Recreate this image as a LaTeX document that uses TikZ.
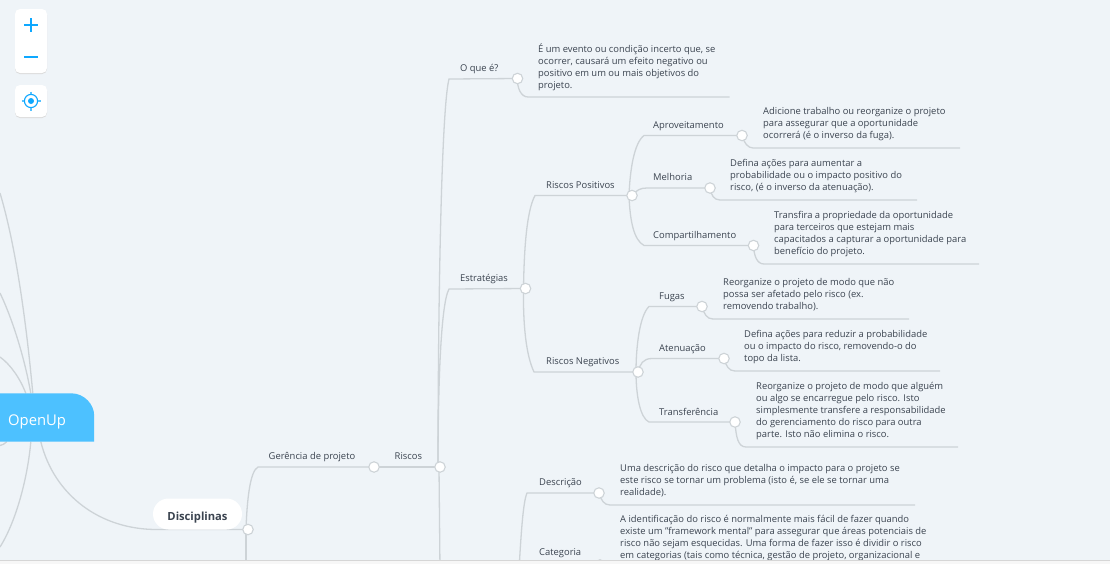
\documentclass[tikz,border=0pt]{standalone}
\usepackage{fontspec}
\setmainfont{Open Sans}
\usetikzlibrary{backgrounds}
\pgfdeclarelayer{paper}
\pgfdeclarelayer{wires}
\pgfdeclarelayer{top}
\pgfsetlayers{paper,wires,main,top}
\definecolor{bgc}{HTML}{EFF4F8}
\definecolor{wire}{HTML}{CDD3D7}
\definecolor{ink}{HTML}{3B4450}
\definecolor{brand}{HTML}{4DC1FF}
\definecolor{ctrl}{HTML}{0EA8FF}
\tikzset{
  txt/.style={anchor=west,inner sep=0pt,align=left,text=ink,font=\fontsize{9.4}{12}\selectfont,
    execute at begin node={\rule{0pt}{10.7pt}},execute at end node={\rule[-3.5pt]{0pt}{3.5pt}}},
  dot/.style={circle,fill=white,draw=wire,line width=1.1pt,minimum size=10.5pt,inner sep=0pt},
  conn/.style={draw=wire,line width=1.3pt},
  card/.style={fill=white,rounded corners=5pt},
  cardshadow/.style={fill=black!14,rounded corners=5pt},
  ctrlline/.style={draw=ctrl,line width=1.6pt}
}
\begin{document}
\begin{tikzpicture}[x=1pt,y=-1pt]
\useasboundingbox (0,0) rectangle (1110,563);
\begin{pgfonlayer}{paper}
\fill[bgc] (0,0) rectangle (1110,570);
\end{pgfonlayer}

% zoom controls
\fill[cardshadow] (15,10) rectangle (47,74);
\fill[card] (15,9) rectangle (47,73);
\fill[cardshadow] (15,86) rectangle (47,118);
\fill[card] (15,85) rectangle (47,117);
\draw[ctrlline] (24,25) -- (38,25) (31,18) -- (31,32);
\draw[ctrlline] (24,57) -- (38,57);
\draw[draw=ctrl,line width=1.1pt] (31,101) circle (6.6);
\fill[ctrl] (31,101) circle (3);
\draw[draw=ctrl!70,line width=1.1pt] (21.5,101) -- (24,101) (38,101) -- (40.5,101) (31,91.5) -- (31,94) (31,108) -- (31,110.5);

% root
\node[minimum width=114pt,minimum height=48pt,inner sep=0pt,anchor=center] (open) at (37,417.5) {};
\fill[brand] (open.south west) -- ([xshift=-0.5pt]open.south east) -- (open.south east) -- ([yshift=26pt]open.south east)
  .. controls ([yshift=-11pt]open.north east) and ([xshift=-10pt]open.north east) .. ([xshift=-23pt]open.north east) -- (open.north west) -- cycle;
\node[anchor=west,inner sep=0pt,text=white,font=\fontsize{14.8}{18}\selectfont] (opentxt) at (8,421.8) {OpenUp};

% main topic
\node[fill=white,rounded corners=15.5pt,minimum width=89pt,minimum height=31pt,inner sep=0pt,text height=15pt,text depth=2pt,text=ink,font=\fontsize{11.2}{13}\selectfont\bfseries] (disc) at (197.5,514) {Disciplinas};

% dots
\node[dot] (dd) at (248,529.5) {};
\node[dot] (dg) at (374,467) {};
\node[dot] (dr) at (440,467) {};
\node[dot] (dq) at (517.5,78.5) {};
\node[dot] (de) at (525.5,288.5) {};
\node[dot] (dp) at (632,195.5) {};
\node[dot] (dn) at (638,372) {};
\node[dot] (da) at (742,135.5) {};
\node[dot] (dm) at (710,188) {};
\node[dot] (dc) at (753.5,245.5) {};
\node[dot] (df) at (702,306.5) {};
\node[dot] (dt) at (724,358.5) {};
\node[dot] (dx) at (735,422) {};
\node[dot] (dv) at (599,493) {};
\node[dot] (dy) at (600,565) {};

% labels
\node[txt] (lg) at (268.5,455.5) {Gerência de projeto};
\node[txt] (lr) at (394.5,455.5) {Riscos};
\node[txt] (lq) at (460,67.5) {O que é?};
\node[txt] (le) at (460,277.5) {Estratégias};
\node[txt] (lp) at (546,184.7) {Riscos Positivos};
\node[txt] (ln) at (546,360.5) {Riscos Negativos};
\node[txt] (la) at (653,124.5) {Aproveitamento};
\node[txt] (lm) at (653,176.5) {Melhoria};
\node[txt] (lc) at (653,234.5) {Compartilhamento};
\node[txt] (lf) at (659,296) {Fugas};
\node[txt] (lt) at (659,347.5) {Atenuação};
\node[txt] (lx) at (659,411.5) {Transferência};
\node[txt] (lv) at (539,481.5) {Descrição};
\node[txt] (ly) at (539,551.5) {Categoria};

% body texts
\node[txt] (tq) at (538,67.5) {É um evento ou condição incerto que, se\\ocorrer, causará um efeito negativo ou\\positivo em um ou mais objetivos do\\projeto.};
\node[txt] (ta) at (763,125) {Adicione trabalho ou reorganize o projeto\\para assegurar que a oportunidade\\ocorrerá (é o inverso da fuga).};
\node[txt] (tm) at (730,176.5) {Defina ações para aumentar a\\probabilidade ou o impacto positivo do\\risco, (é o inverso da atenuação).};
\node[txt] (tc) at (774,234.5) {Transfira a propriedade da oportunidade\\para terceiros que estejam mais\\capacitados a capturar a oportunidade para\\benefício do projeto.};
\node[txt] (tf) at (723,296) {Reorganize o projeto de modo que não\\possa ser afetado pelo risco (ex.\\removendo trabalho).};
\node[txt] (tt) at (744,347.5) {Defina ações para reduzir a probabilidade\\ou o impacto do risco, removendo-o do\\topo da lista.};
\node[txt] (tx) at (756,411.5) {Reorganize o projeto de modo que alguém\\ou algo se encarregue pelo risco. Isto\\simplesmente transfere a responsabilidade\\do gerenciamento do risco para outra\\parte. Isto não elimina o risco.};
\node[txt] (tv) at (620,481.5) {Uma descrição do risco que detalha o impacto para o projeto se\\este risco se tornar um problema (isto é, se ele se tornar uma\\realidade).};
\node[txt] (ty) at (620,539) {A identificação do risco é normalmente mais fácil de fazer quando\\existe um "framework mental" para assegurar que áreas potenciais de\\risco não sejam esquecidas. Uma forma de fazer isso é dividir o risco\\em categorias (tais como técnica, gestão de projeto, organizacional e};

% free ends
\coordinate (e1) at (0,193);
\coordinate (e2) at (0,293);
\coordinate (e3) at (0,357);
\coordinate (e4) at (0,547);
\coordinate (e5) at (0,445.5);
\coordinate (uq) at (729.5,97);
\coordinate (ua) at (960,148);
\coordinate (um) at (917,200);
\coordinate (uc) at (979,264);
\coordinate (uf) at (909,319);
\coordinate (ut) at (940,371);
\coordinate (ux) at (958,447);
\coordinate (uv) at (915,505);
\coordinate (b1) at (246,570);
\coordinate (b2) at (440,570);
\coordinate (b3) at (519,570);

\begin{pgfonlayer}{wires}
% root connectors
\draw[conn] ([xshift=53pt]open.north west) .. controls (27,330) and (17,250) .. (e1);
\draw[conn] ([xshift=51pt]open.north west) .. controls (25,360) and (13,320) .. (e2);
\draw[conn] ([xshift=46pt]open.north west) .. controls (20,378) and (10,364) .. (e3);
\draw[conn] ([xshift=51pt]open.south west) .. controls (28,475) and (17,520) .. (e4);
\draw[conn] ([xshift=27pt]open.south west) .. controls (5,444) and (2,445) .. (e5);
\draw[conn] ([xshift=61pt]open.south west) .. controls (54,495) and (100,530) .. (158,529.5) -- (dd.center);
% disciplinas
\draw[conn] ([xshift=-2pt]dd.center) .. controls (247,500) and (250,471) .. (258,467) -- (dg.center);
\draw[conn] ([xshift=-2pt]dd.center) -- (b1);
\draw[conn] (dg.center) -- (dr.center);
% riscos
\draw[conn] ([xshift=-2pt]dr.center) .. controls (438,320) and (441,110) .. (449,79) -- (dq.center);
\draw[conn] ([xshift=-2pt]dr.center) .. controls (438,400) and (440,305) .. (449,289) -- (de.center);
\draw[conn] ([xshift=-1pt]dr.center) -- (b2);
% estrategias
\draw[conn] ([xshift=-2pt]de.center) .. controls (524,255) and (526,212) .. (535,195.5) -- (dp.center);
\draw[conn] ([xshift=-2pt]de.center) .. controls (523,325) and (526,355) .. (534,372) -- (dn.center);
% positivos
\draw[conn] ([xshift=-3pt]dp.center) .. controls (630,170) and (634,143) .. (644,135.5) -- (da.center);
\draw[conn] (dp.center) .. controls (637,190) and (640,188) .. (647,188) -- (dm.center);
\draw[conn] ([xshift=-3pt]dp.center) .. controls (630,222) and (634,240) .. (644,245.5) -- (dc.center);
% negativos
\draw[conn] ([xshift=-2pt]dn.center) .. controls (636,345) and (640,315) .. (649,306.5) -- (df.center);
\draw[conn] (dn.center) .. controls (640,364) and (643,358.5) .. (652,358.5) -- (dt.center);
\draw[conn] ([xshift=-2pt]dn.center) .. controls (636,395) and (640,418) .. (649,422) -- (dx.center);
% under-lines
\draw[conn] (dq.center) .. controls (517,88) and (521,97) .. (528,97) -- (uq);
\draw[conn] (da.center) .. controls (744,143) and (748,148) .. (753,148) -- (ua);
\draw[conn] (dm.center) .. controls (711,195) and (714,200) .. (720,200) -- (um);
\draw[conn] (dc.center) .. controls (754,256) and (757,264) .. (764,264) -- (uc);
\draw[conn] (df.center) .. controls (704,314) and (707,319) .. (713,319) -- (uf);
\draw[conn] (dt.center) .. controls (726,366) and (729,371) .. (735,371) -- (ut);
\draw[conn] (dx.center) .. controls (736,437) and (738,447) .. (746,447) -- (ux);
\draw[conn] (dv.center) .. controls (601,500) and (604,505) .. (610,505) -- (uv);
% descricao, categoria
\draw[conn] (b3) .. controls (521,535) and (523,502) .. (527,493) -- (dv.center);
\end{pgfonlayer}

\begin{pgfonlayer}{top}
\fill[black!3] (0,560) rectangle (1110,570);
\draw[black!16,line width=1pt] (0,560) -- (1110,560);
\end{pgfonlayer}
\end{tikzpicture}
\end{document}
